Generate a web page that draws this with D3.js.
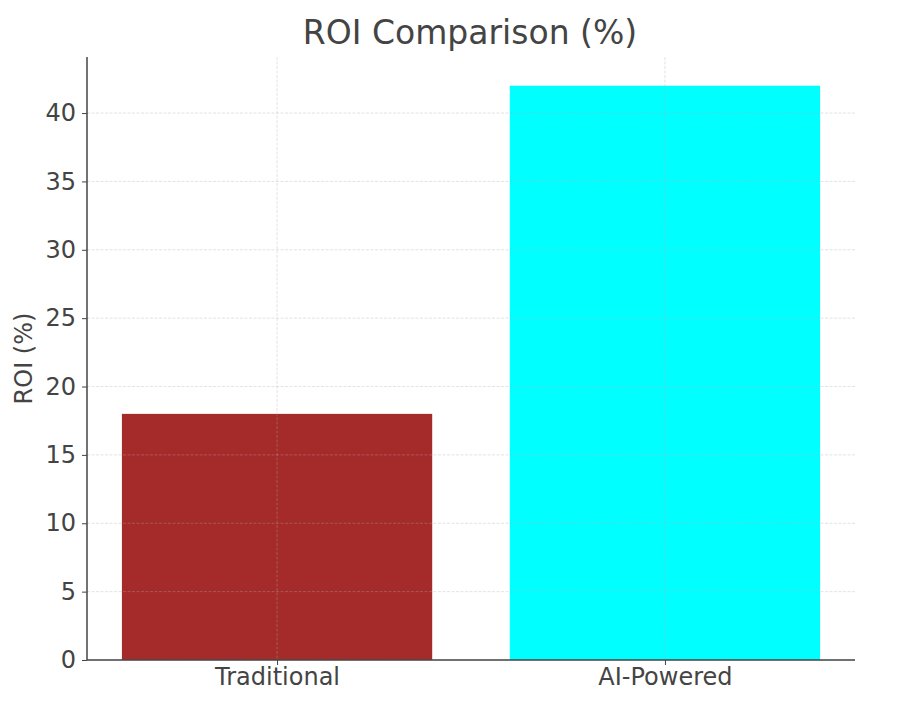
<!DOCTYPE html>
<meta charset="utf-8">
<script src="https://d3js.org/d3.v7.min.js"></script>
<style>
  body { margin: 0; background: #fff; font-family: 'DejaVu Sans', sans-serif; }
  text { fill: #444; }
</style>
<div id="chart"></div>
<script>

var categories = ["Traditional", "AI-Powered"];
var roi = [18, 42];
var barColors = ["#a52a2a", "#00ffff"];
var yTicks = [0, 5, 10, 15, 20, 25, 30, 35, 40];

var margin = {top: 57, right: 43, bottom: 45, left: 87},
    width = 898 - margin.left - margin.right,
    height = 705 - margin.top - margin.bottom;

var svg = d3.select("#chart")
  .append("svg")
    .attr("width", 898)
    .attr("height", 705)
  .append("g")
    .attr("transform", "translate(" + margin.left + "," + margin.top + ")");

// band-like linear scale, same as matplotlib bar positions
var x = d3.scaleLinear()
  .domain([-0.49, 1.49])
  .range([0, width]);

var y = d3.scaleLinear()
  .domain([0, 42 * 1.05])
  .range([height, 0]);

var barW = 0.8;

svg.append("g")
  .selectAll("rect")
  .data(roi)
  .enter()
  .append("rect")
    .attr("x", function(d, i) { return x(i - barW / 2); })
    .attr("width", function() { return x(barW) - x(0); })
    .attr("y", function(d) { return y(d); })
    .attr("height", function(d) { return height - y(d); })
    .style("fill", function(d, i) { return barColors[i]; });

// grid on top of bars
var grid = svg.append("g").attr("class", "grid");
grid.selectAll(".hg")
  .data(yTicks)
  .enter().append("line")
    .attr("x1", 0).attr("x2", width)
    .attr("y1", function(d) { return y(d); })
    .attr("y2", function(d) { return y(d); })
    .style("stroke", "#b0b0b0")
    .style("stroke-opacity", 0.35)
    .style("stroke-dasharray", "3,1.5");
grid.selectAll(".vg")
  .data(categories)
  .enter().append("line")
    .attr("y1", 0).attr("y2", height)
    .attr("x1", function(d, i) { return x(i); })
    .attr("x2", function(d, i) { return x(i); })
    .style("stroke", "#b0b0b0")
    .style("stroke-opacity", 0.35)
    .style("stroke-dasharray", "3,1.5");

var yAxis = svg.append("g")
  .call(d3.axisLeft(y).tickValues(yTicks).tickSize(5).tickPadding(6));

var xAxis = svg.append("g")
  .attr("transform", "translate(0," + height + ")")
  .call(d3.axisBottom(x).tickValues([0, 1]).tickSize(5).tickPadding(3)
    .tickFormat(function(d) { return categories[d]; }));

[yAxis, xAxis].forEach(function(a) {
  a.select(".domain").style("stroke", "#444").style("stroke-width", 1.5);
  a.selectAll(".tick line").style("stroke", "#444");
  a.selectAll(".tick text")
    .style("font-family", "'DejaVu Sans', sans-serif")
    .style("font-size", "24px")
    .style("fill", "#444");
});
// outer ticks off, like matplotlib spines
yAxis.select(".domain").attr("d", "M0,0V" + height);
xAxis.select(".domain").attr("d", "M0,0H" + width);

svg.append("text")
  .attr("x", width / 2 - 1)
  .attr("y", -13)
  .style("text-anchor", "middle")
  .style("font-size", "33px")
  .text("ROI Comparison (%)");

svg.append("text")
  .attr("transform", "rotate(-90)")
  .attr("x", -height / 2)
  .attr("y", -55)
  .style("text-anchor", "middle")
  .style("font-size", "24px")
  .text("ROI (%)");

</script>
